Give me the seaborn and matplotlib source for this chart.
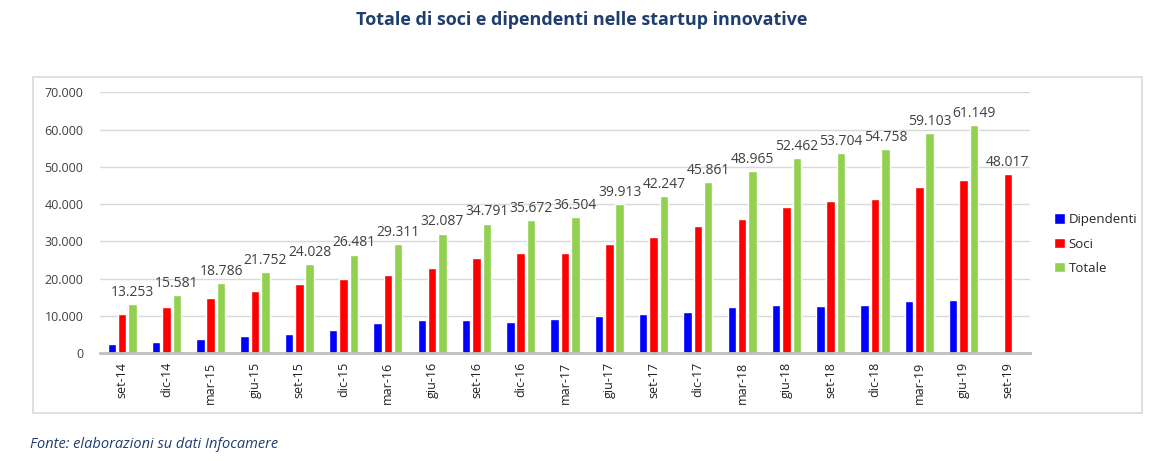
import pandas as pd
import numpy as np
import matplotlib.pyplot as plt
from matplotlib.patches import Rectangle
import seaborn as sns

periodi = ['set-14', 'dic-14', 'mar-15', 'giu-15', 'set-15', 'dic-15', 'mar-16',
           'giu-16', 'set-16', 'dic-16', 'mar-17', 'giu-17', 'set-17', 'dic-17',
           'mar-18', 'giu-18', 'set-18', 'dic-18', 'mar-19', 'giu-19', 'set-19']
dipendenti = [2400, 2950, 3750, 4730, 5270, 6340, 8040,
              8850, 8930, 8390, 9110, 10090, 10630, 11160,
              12500, 12950, 12680, 13040, 14110, 14370, np.nan]
soci = [10540, 12330, 14740, 16700, 18500, 19840, 21000,
        22790, 25470, 26810, 26990, 29400, 31190, 34220,
        36100, 39150, 40760, 41380, 44510, 46390, 48017]
totale = [13253, 15581, 18786, 21752, 24028, 26481, 29311,
          32087, 34791, 35672, 36504, 39913, 42247, 45861,
          48965, 52462, 53704, 54758, 59103, 61149, np.nan]

serie = ['Dipendenti', 'Soci', 'Totale']
colori = ['#0000FF', '#FF0000', '#92D050']

df = pd.DataFrame({'periodo': periodi, 'Dipendenti': dipendenti,
                   'Soci': soci, 'Totale': totale})
long = df.melt(id_vars='periodo', var_name='serie', value_name='valore').dropna()

sns.set_style('white')
plt.rcParams['font.family'] = ['Open Sans', 'DejaVu Sans']

fig = plt.figure(figsize=(11.64, 4.61), dpi=100)
ax = fig.add_axes([100 / 1164, 1 - 353.3 / 461, 930 / 1164, 261 / 461])

sns.barplot(data=long, x='periodo', y='valore', hue='serie', order=periodi,
            hue_order=serie, palette=colori, width=0.7, gap=0.18,
            saturation=1, ax=ax, legend=True)

ax.set_ylim(0, 70000)
ax.set_xlim(-0.5, len(periodi) - 0.5)
ax.set_yticks(range(0, 70001, 10000))
ax.set_yticklabels([f'{v:,}'.replace(',', '.') for v in range(0, 70001, 10000)],
                   fontsize=9, color='#404040')
ax.tick_params(axis='y', length=0, pad=12)
ax.tick_params(axis='x', length=0, pad=6, labelrotation=90, labelsize=9,
               labelcolor='#202020')
ax.set_xlabel('')
ax.set_ylabel('')
ax.yaxis.grid(True, color='#D9D9D9', linewidth=1)
ax.set_axisbelow(True)
for s in ['top', 'right', 'left']:
    ax.spines[s].set_visible(False)
ax.spines['bottom'].set_color('#BFBFBF')
ax.spines['bottom'].set_linewidth(2)

def fmt(v):
    return f'{v:,.0f}'.replace(',', '.')

cont_tot = ax.containers[2]
ax.bar_label(cont_tot, labels=[fmt(v) for v in cont_tot.datavalues],
             padding=3, fontsize=10, color='#404040')
cont_soci = ax.containers[1]
ax.bar_label(cont_soci, labels=[''] * (len(periodi) - 1) + [fmt(soci[-1])],
             padding=3, fontsize=10, color='#404040')

leg = ax.legend(loc='center left', bbox_to_anchor=(1042 / 1164, 1 - 244 / 461),
                bbox_transform=fig.transFigure, frameon=False, fontsize=9.5,
                handlelength=0.85, handleheight=0.85, handletextpad=0.25,
                labelspacing=0.85)

fig.patches.append(Rectangle((33 / 1164, 1 - 413 / 461), 1109 / 1164, 336 / 461,
                             transform=fig.transFigure, fill=False,
                             edgecolor='#D9D9D9', linewidth=1.2))

fig.text(0.5, 1 - 20 / 461, 'Totale di soci e dipendenti nelle startup innovative',
         ha='center', va='center', fontsize=13, fontweight='bold', color='#1F3D6E')
fig.text(30 / 1164, 1 - 444 / 461, 'Fonte: elaborazioni su dati Infocamere',
         ha='left', va='center', fontsize=10.5, style='italic', color='#1F3D6E')

fig.savefig('out.png', dpi=100)
